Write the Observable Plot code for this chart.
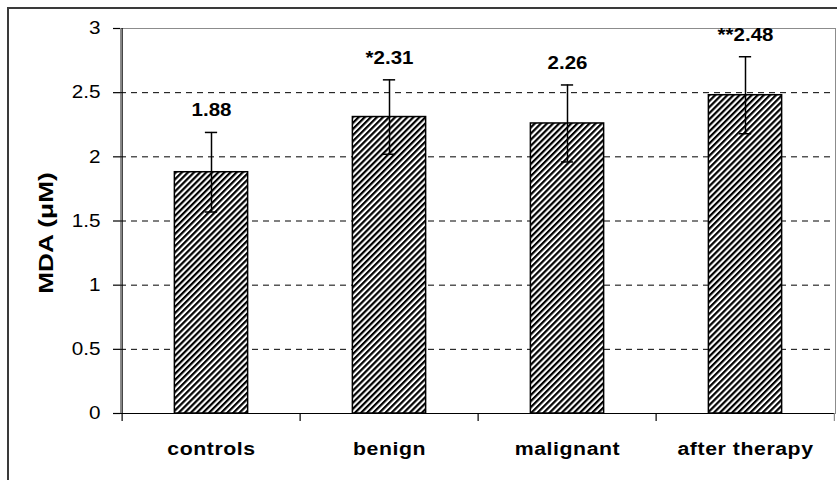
<!DOCTYPE html>
<html>
<head>
<meta charset="utf-8">
<script src="https://cdn.jsdelivr.net/npm/d3@7"></script>
<script src="https://cdn.jsdelivr.net/npm/@observablehq/plot@0.6"></script>
<style>
  html, body { margin: 0; padding: 0; background: #fff; overflow: hidden; }
  #wrap { position: relative; width: 837px; height: 480px; }
  #frame { position: absolute; left: 7px; top: 7px; width: 900px; height: 600px; border: 2px solid #3a3a3a; box-sizing: border-box; }
  #chart { position: absolute; left: 0; top: 0; }
  svg { font-family: "Liberation Sans", Arial, sans-serif; }
</style>
</head>
<body>
<div id="wrap"><div id="frame"></div><div id="chart"></div></div>
<script>
const categories = ["controls", "benign", "malignant", "after therapy"];
const means = [1.88, 2.31, 2.26, 2.48];
const errors = [0.31, 0.29, 0.30, 0.30];
const valueLabels = ["1.88", "*2.31", "2.26", "**2.48"];
const yTicks = [0, 0.5, 1, 1.5, 2, 2.5, 3];
const gridValues = [0.5, 1, 1.5, 2, 2.5];
const yLabel = "MDA (\u03BCM)";

const data = categories.map((c, i) => ({c, v: means[i], e: errors[i], label: valueLabels[i]}));

const W = 837, H = 480, mL = 120, mR = 2, mT = 28, mB = 67;
const step = (W - mL - mR) / categories.length;
const barInset = (step - 74) / 2;
const capInset = (step - 13) / 2;
const yMin = yTicks[0], yMax = yTicks[yTicks.length - 1];

const chart = Plot.plot({
  width: W, height: H,
  marginLeft: mL, marginRight: mR, marginTop: mT, marginBottom: mB,
  style: {fontFamily: '"Liberation Sans", Arial, sans-serif', background: "transparent", color: "#000"},
  x: {domain: categories, padding: 0, label: null, axis: null},
  y: {domain: [yMin, yMax], label: null, axis: null},
  marks: [
    Plot.frame({stroke: "#8c8c8c", strokeWidth: 1}),
    Plot.gridY(gridValues, {stroke: "#000", strokeOpacity: 1, strokeWidth: 1, strokeDasharray: "6,5"}),
    Plot.barY(data, {x: "c", y: "v", fill: "url(#hatch)", stroke: "#000", strokeWidth: 1.5, insetLeft: barInset, insetRight: barInset}),
    Plot.ruleX(data, {x: "c", y1: d => d.v - d.e, y2: d => d.v + d.e, stroke: "#000", strokeWidth: 1.5}),
    Plot.tickY(data, {x: "c", y: d => d.v + d.e, stroke: "#000", strokeWidth: 1.5, insetLeft: capInset, insetRight: capInset}),
    Plot.tickY(data, {x: "c", y: d => d.v - d.e, stroke: "#000", strokeWidth: 1.5, insetLeft: capInset, insetRight: capInset}),
    Plot.text(data, {x: "c", y: d => d.v + d.e, text: "label", dy: -16, lineAnchor: "bottom", fontWeight: "bold", fontSize: 19, fill: "#000", className: "vlabel"}),
    Plot.ruleY([yMin], {stroke: "#000", strokeWidth: 1.2}),
    Plot.ruleX([categories[0]], {x: d => d, dx: -step / 2, y1: yMax, y2: yMin, insetBottom: -8, stroke: "#000", strokeWidth: 1.2}),
    Plot.ruleX(categories.slice(1), {x: d => d, dx: -step / 2, y1: yMin, y2: yMin, insetBottom: -8, stroke: "#000", strokeWidth: 1.2}),
    Plot.ruleX([categories[categories.length - 1]], {x: d => d, dx: step / 2 - 0.5, y1: yMin, y2: yMin, insetBottom: -8, stroke: "#8c8c8c", strokeWidth: 1.2}),
    Plot.axisY(yTicks, {tickSize: 7, tickPadding: 13, tickFormat: d => String(d), fontSize: 18, stroke: "#000", strokeWidth: 1.2, className: "ytl"}),
    Plot.axisX({tickSize: 0, tickPadding: 28, fontSize: 19, fontWeight: "bold", className: "xtl"})
  ]
});

const svg = d3.select(chart);
svg.insert("defs", ":first-child").html(
  '<pattern id="hatch" patternUnits="userSpaceOnUse" width="4.3" height="4.3" patternTransform="rotate(45)">' +
  '<rect width="4.3" height="4.3" fill="#fff"/>' +
  '<rect x="0" y="0" width="2.2" height="4.3" fill="#000"/>' +
  '</pattern>'
);

// widen glyphs horizontally, as in the reference rendering
function stretch(sel, s, ls) {
  sel.each(function () {
    const t = this.getAttribute("transform");
    if (t) {
      this.setAttribute("transform", t + ` scale(${s},1)`);
    } else {
      const x = +(this.getAttribute("x") || 0), y = +(this.getAttribute("y") || 0);
      this.setAttribute("x", 0); this.setAttribute("y", 0);
      this.setAttribute("transform", `translate(${x},${y}) scale(${s},1)`);
    }
    if (ls) this.style.letterSpacing = ls;
  });
}
stretch(svg.selectAll('g[aria-label="x-axis tick label"] text'), 1.12, "0.5px");
stretch(svg.selectAll('g[aria-label="y-axis tick label"] text'), 1.15, null);
stretch(svg.selectAll('g[aria-label="text"] text'), 1.08, null);

svg.append("text")
  .attr("transform", "translate(53,233) rotate(-90) scale(1.25,1)")
  .attr("text-anchor", "middle")
  .attr("font-size", 21)
  .attr("font-weight", "bold")
  .attr("fill", "#000")
  .text(yLabel);

document.getElementById("chart").appendChild(chart);
</script>
</body>
</html>
